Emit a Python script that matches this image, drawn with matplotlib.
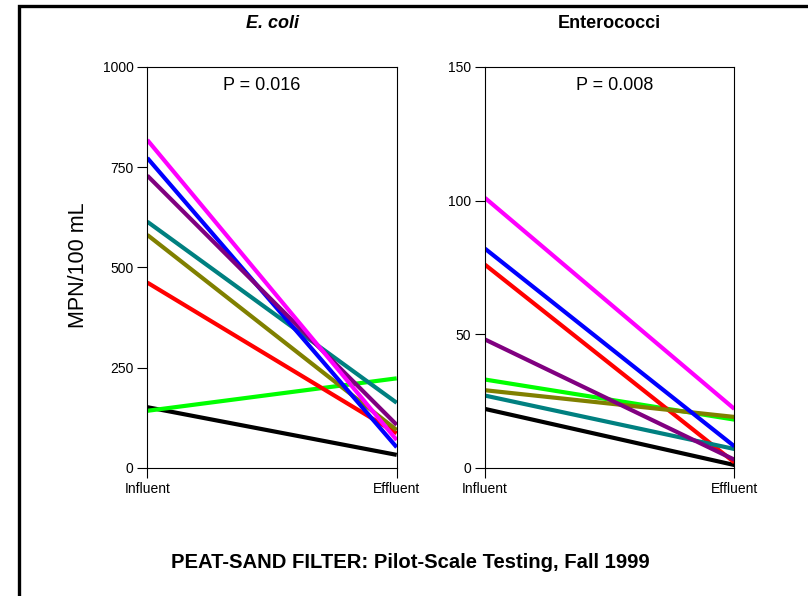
import matplotlib
matplotlib.use("Agg")
import matplotlib.pyplot as plt
from matplotlib.patches import Rectangle

plt.rcParams["font.family"] = ["Liberation Sans", "DejaVu Sans"]

stages = ["Influent", "Effluent"]
series_names = ["black", "green", "red", "olive", "teal", "blue", "purple", "magenta"]
series_colors = ["#000000", "#00ff00", "#ff0000", "#808000", "#008080", "#0000ff", "#800080", "#ff00ff"]

# E. coli, MPN/100 mL (influent, effluent)
ecoli_influent = [151, 142, 462, 581, 614, 773, 729, 818]
ecoli_effluent = [32, 223, 86, 94, 162, 51, 107, 69]

# Enterococci, MPN/100 mL (influent, effluent)
entero_influent = [22, 33, 76, 29, 27, 82, 48, 101]
entero_effluent = [1, 18, 2, 19, 7, 8, 3, 22]

panels = [
    ("E. coli", "italic", ecoli_influent, ecoli_effluent, 1000, [0, 250, 500, 750, 1000], "P = 0.016", 0.46),
    ("Enterococci", "normal", entero_influent, entero_effluent, 150, [0, 50, 100, 150], "P = 0.008", 0.52),
]

W, H = 808, 596
fig = plt.figure(figsize=(W / 100, H / 100), dpi=100)

# outer frame (only top/left edges fall inside the picture)
fig.patches.append(Rectangle((19 / W, 1 - 610 / H), 800 / W, 604 / H,
                             transform=fig.transFigure, fill=False,
                             edgecolor="black", linewidth=2.4))

lefts = [147.3, 485.0]
for left, (title, style, infl, effl, ymax, yticks, ptext, px) in zip(lefts, panels):
    ax = fig.add_axes([left / W, 1 - 467.7 / H, 249.4 / W, 400.7 / H])
    for name, color, a, b in zip(series_names, series_colors, infl, effl):
        ax.plot([0, 1], [a, b], color=color, linewidth=3.0, solid_capstyle="butt")
    ax.set_xlim(0, 1)
    ax.set_ylim(0, ymax)
    ax.set_xticks([0, 1])
    ax.set_xticklabels(stages)
    ax.set_yticks(yticks)
    ax.tick_params(direction="out", length=7, width=0.8, labelsize=10, pad=3)
    for s in ax.spines.values():
        s.set_linewidth(0.8)
    ax.text(px, 0.955, ptext, transform=ax.transAxes, ha="center", va="center", fontsize=13)
    cx = (left + 124.7) / W
    fig.text(cx, 1 - 23 / H, title, ha="center", va="center", fontsize=13,
             fontweight="bold", fontstyle=style)

fig.text(79 / W, 1 - 265 / H, "MPN/100 mL", rotation=90, ha="center", va="center", fontsize=15.5)
fig.text(410 / W, 1 - 562 / H, "PEAT-SAND FILTER: Pilot-Scale Testing, Fall 1999",
         ha="center", va="center", fontsize=14.6, fontweight="bold")

fig.savefig("out.png", dpi=100)
